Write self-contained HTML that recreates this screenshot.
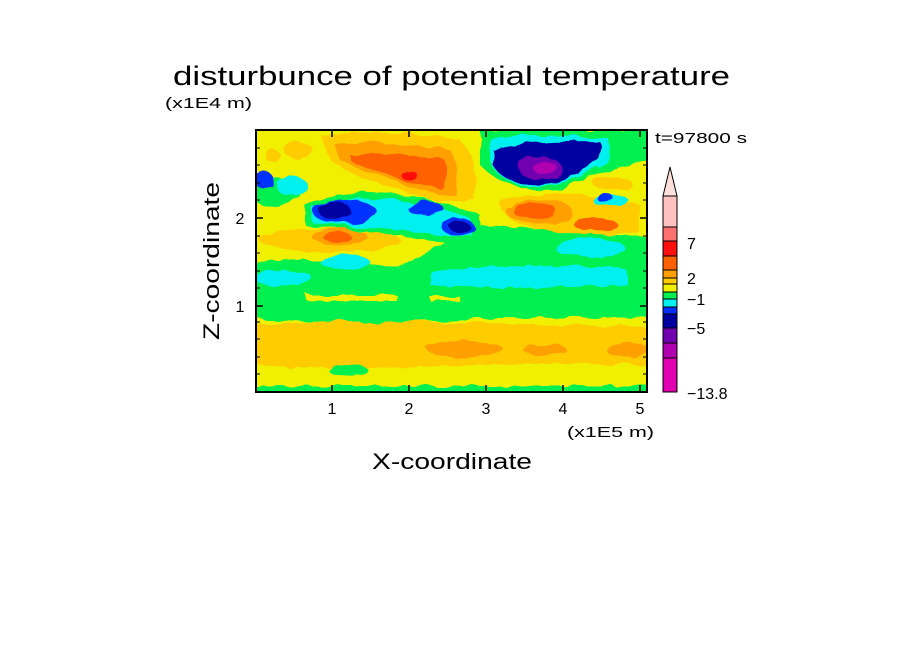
<!DOCTYPE html>
<html><head><meta charset="utf-8"><style>html,body{margin:0;padding:0;background:#fff}</style></head>
<body>
<svg width="904" height="654" xmlns="http://www.w3.org/2000/svg" font-family="Liberation Sans, sans-serif">
<defs><clipPath id="c"><rect x="256" y="130" width="391" height="262"/></clipPath>
<filter id="w" x="-5%" y="-5%" width="110%" height="110%"><feTurbulence type="fractalNoise" baseFrequency="0.06" numOctaves="2" seed="3"/><feDisplacementMap in="SourceGraphic" scale="8"/></filter></defs>
<text x="173" y="85" font-size="27" textLength="557" lengthAdjust="spacingAndGlyphs">disturbunce of potential temperature</text>
<text x="165" y="108" font-size="15" textLength="87" lengthAdjust="spacingAndGlyphs">(x1E4 m)</text>
<text x="655" y="143" font-size="15" textLength="92" lengthAdjust="spacingAndGlyphs">t=97800 s</text>
<g clip-path="url(#c)"><g filter="url(#w)">
<rect x="250" y="125" width="405" height="275" fill="#f0f000"/>
<path d="M250 324 Q350 318 450 322 T650 326 L650 365 Q550 362 450 366 T250 365Z" fill="#ffcc00"/>
<ellipse cx="465" cy="349" rx="38" ry="8" fill="#ffa000"/>
<ellipse cx="628" cy="350" rx="22" ry="7" fill="#ffa000"/>
<ellipse cx="545" cy="350" rx="22" ry="5" fill="#ffa000"/>
<ellipse cx="348" cy="370" rx="20" ry="5" fill="#00f050"/>
<rect x="250" y="386" width="405" height="10" fill="#00f050"/>
<path d="M250 283 L650 283 L650 318 Q550 316 450 320 T250 318Z" fill="#00f050"/>
<rect x="307" y="295" width="90" height="6" fill="#f0f000"/>
<rect x="430" y="297" width="30" height="4" fill="#f0f000"/>
<path d="M250 262 Q300 258 360 262 Q400 270 410 262 Q450 235 480 225 L650 238 L650 285 L250 285Z" fill="#00f050"/>
<ellipse cx="282" cy="278" rx="30" ry="8" fill="#00f0f0"/>
<path d="M432 272 Q520 262 625 268 L628 285 Q520 290 430 285Z" fill="#00f0f0"/>
<ellipse cx="345" cy="262" rx="25" ry="7" fill="#00f0f0"/>
<ellipse cx="590" cy="248" rx="35" ry="9" fill="#00f0f0"/>
<ellipse cx="298" cy="150" rx="14" ry="9" fill="#ffcc00"/>
<ellipse cx="272" cy="155" rx="8" ry="6" fill="#ffcc00"/>
<ellipse cx="275" cy="192" rx="25" ry="14" fill="#00f050"/>
<ellipse cx="292" cy="186" rx="16" ry="9" fill="#00f0f0"/>
<ellipse cx="264" cy="180" rx="10" ry="8" fill="#0030ff"/>
<ellipse cx="330" cy="240" rx="70" ry="12" fill="#ffcc00"/>
<ellipse cx="340" cy="237" rx="28" ry="8" fill="#ffa000"/>
<ellipse cx="337" cy="237" rx="14" ry="5" fill="#ff6000"/>
<path d="M305 205 Q340 188 400 195 Q440 200 480 215 L480 240 Q440 245 400 235 Q350 230 305 225Z" fill="#00f050"/>
<path d="M312 208 Q345 195 395 200 Q440 205 470 218 L472 236 Q440 238 400 230 Q350 228 312 222Z" fill="#00f0f0"/>
<ellipse cx="345" cy="212" rx="32" ry="12" fill="#0030ff"/>
<ellipse cx="335" cy="211" rx="16" ry="9" fill="#0000a0"/>
<ellipse cx="425" cy="208" rx="18" ry="7" fill="#0030ff"/>
<ellipse cx="458" cy="227" rx="16" ry="9" fill="#0030ff"/>
<ellipse cx="460" cy="227" rx="10" ry="6" fill="#0000a0"/>
<path d="M320 135 Q380 128 460 140 Q480 160 475 200 Q430 205 400 190 Q360 180 330 160Z" fill="#ffcc00"/>
<path d="M335 145 Q380 140 450 150 Q465 170 455 195 Q420 195 395 180 Q360 170 340 160Z" fill="#ffa000"/>
<path d="M350 155 Q390 150 445 160 Q450 175 440 188 Q410 185 390 175 Q365 168 352 162Z" fill="#ff6000"/>
<ellipse cx="408" cy="174" rx="8" ry="5" fill="#ff1010"/>
<path d="M480 130 L650 130 L650 160 Q600 170 560 190 Q510 195 480 165Z" fill="#00f050"/>
<path d="M490 140 Q540 130 610 140 L612 160 Q570 185 530 188 Q495 180 490 160Z" fill="#00f0f0"/>
<path d="M493 150 Q540 138 600 142 Q608 152 590 165 Q560 185 530 186 Q500 180 493 165Z" fill="#0000a0"/>
<ellipse cx="540" cy="168" rx="22" ry="11" fill="#7000b0"/>
<ellipse cx="545" cy="168" rx="12" ry="6" fill="#b000b0"/>
<path d="M500 200 Q560 185 640 205 L640 232 Q580 240 520 225 Q500 215 500 200Z" fill="#ffcc00"/>
<ellipse cx="540" cy="212" rx="33" ry="12" fill="#ffa000"/>
<ellipse cx="535" cy="211" rx="22" ry="8" fill="#ff6000"/>
<ellipse cx="595" cy="224" rx="22" ry="6" fill="#ff6000"/>
<ellipse cx="612" cy="183" rx="20" ry="6" fill="#ffcc00"/>
<ellipse cx="610" cy="200" rx="18" ry="6" fill="#00f0f0"/>
<ellipse cx="605" cy="198" rx="8" ry="5" fill="#0030ff"/>
</g></g>
<rect x="256" y="130" width="391" height="262" fill="none" stroke="#000" stroke-width="2"/>
<g stroke="#000" stroke-width="1.5">
<path d="M332 392v-7M409 392v-7M486 392v-7M563 392v-7M640 392v-7M332 130v7M409 130v7M486 130v7M563 130v7M640 130v7"/>
<path d="M256 306h7M256 218h7M647 306h-7M647 218h-7"/>
<path stroke-width="1" d="M256 374h4M256 357h4M256 339h4M256 322h4M256 288h4M256 271h4M256 253h4M256 236h4M256 200h4M256 183h4M256 165h4M256 148h4M647 374h-4M647 357h-4M647 339h-4M647 322h-4M647 288h-4M647 271h-4M647 253h-4M647 236h-4M647 200h-4M647 183h-4M647 165h-4M647 148h-4"/>
</g>
<g font-size="16" text-anchor="middle">
<text x="332" y="414">1</text><text x="409" y="414">2</text><text x="486" y="414">3</text><text x="563" y="414">4</text><text x="640" y="414">5</text>
<text x="240" y="312">1</text><text x="240" y="224">2</text>
</g>
<text x="567" y="437" font-size="15" textLength="87" lengthAdjust="spacingAndGlyphs">(x1E5 m)</text>
<text x="452" y="469" font-size="22" text-anchor="middle" textLength="160" lengthAdjust="spacingAndGlyphs">X-coordinate</text>
<text transform="translate(219,261) rotate(-90)" font-size="22" text-anchor="middle" textLength="158" lengthAdjust="spacingAndGlyphs">Z-coordinate</text>
<polygon points="670,167 663,196 677,196" fill="#ffe0dc" stroke="#000" stroke-width="1"/>
<g stroke="#000" stroke-width="1">
<rect x="663" y="196" width="14" height="31" fill="#ffc0c0"/>
<rect x="663" y="227" width="14" height="14" fill="#ff7070"/>
<rect x="663" y="241" width="14" height="15" fill="#ff1010"/>
<rect x="663" y="256" width="14" height="14" fill="#ff6000"/>
<rect x="663" y="270" width="14" height="8" fill="#ffa000"/>
<rect x="663" y="278" width="14" height="6" fill="#ffcc00"/>
<rect x="663" y="284" width="14" height="8" fill="#f0f000"/>
<rect x="663" y="292" width="14" height="7" fill="#00f050"/>
<rect x="663" y="299" width="14" height="8" fill="#00f0f0"/>
<rect x="663" y="307" width="14" height="7" fill="#0030ff"/>
<rect x="663" y="314" width="14" height="14" fill="#0000a0"/>
<rect x="663" y="328" width="14" height="15" fill="#7000b0"/>
<rect x="663" y="343" width="14" height="15" fill="#b000b0"/>
<rect x="663" y="358" width="14" height="34" fill="#e000b0"/>
</g>
<g font-size="16">
<text x="687" y="249">7</text><text x="687" y="284">2</text><text x="687" y="305">−1</text><text x="687" y="334">−5</text><text x="687" y="399">−13.8</text>
</g>
</svg>
</body></html>
